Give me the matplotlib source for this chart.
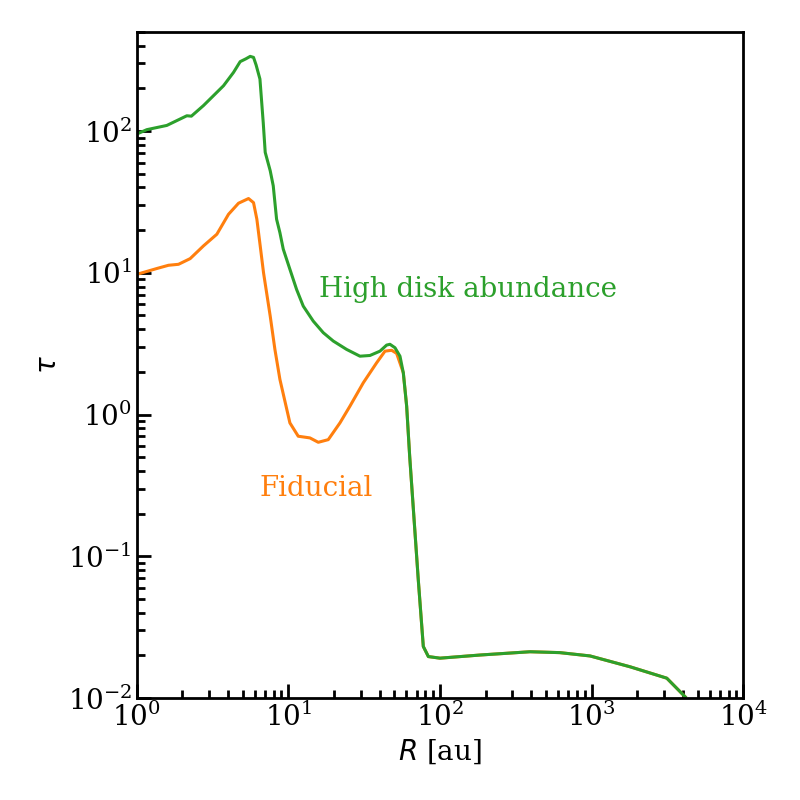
import numpy as np
import matplotlib
matplotlib.use('Agg')
import matplotlib.pyplot as plt

plt.rcParams['font.family'] = 'serif'
plt.rcParams['font.size'] = 20

# shared outer part (both models agree beyond ~55 au)
r_tail = [57.28, 60.26, 63.1, 71.9, 77.6, 83.8, 100, 183.7, 392.6, 616.6, 977, 1795, 3133, 4140]
tau_tail = [1.97, 1.146, 0.507, 0.0682, 0.0231, 0.0196, 0.0191, 0.0201, 0.0212, 0.0209, 0.0198,
            0.0166, 0.0138, 0.0102]

# high disk abundance model
r_high = [1, 1.164, 1.578, 2.138, 2.291, 2.754, 3.206, 3.733, 4.345, 4.808, 5.248, 5.598, 5.888,
          6.124, 6.49, 6.823, 7.031, 7.586, 7.943, 8.356, 8.79, 9.247, 10.23, 11.32, 12.53, 14.59,
          16.98, 19.77, 24.21, 29.65, 34.51, 40.18, 44.46, 46.77, 50.47, 54.45]
tau_high = [95.3, 102.3, 109.6, 128.2, 127.4, 151.4, 177.8, 208.9, 259.4, 309, 323.6, 336.5, 331,
            292.4, 232.8, 114.8, 70.8, 52.5, 41.1, 23.9, 19.2, 14.7, 10.59, 7.64, 5.82, 4.56,
            3.78, 3.30, 2.88, 2.58, 2.61, 2.80, 3.09, 3.13, 2.96, 2.58]

# fiducial model
r_fid = [1, 1.355, 1.618, 1.884, 2.249, 2.754, 3.373, 4.027, 4.688, 5.458, 5.888, 6.194, 6.516,
         6.855, 7.586, 8.147, 8.79, 10.23, 11.61, 13.87, 15.74, 18.32, 21.88, 25.47, 31.19, 38.19,
         43.35, 47.97, 51.76]
tau_fid = [9.75, 10.72, 11.3, 11.48, 12.59, 15.49, 18.71, 25.88, 30.97, 33.42, 31.26, 23.88, 15.49,
           10.0, 4.95, 2.88, 1.77, 0.873, 0.703, 0.684, 0.637, 0.665, 0.873, 1.146, 1.675, 2.317,
           2.8, 2.84, 2.70]

c_fid = '#ff7f0e'
c_high = '#2ca02c'

fig = plt.figure(figsize=(8, 8), dpi=100)
ax = fig.add_axes([0.171, 0.1275, 0.758, 0.8325])

ax.plot(r_fid + r_tail, tau_fid + tau_tail, color=c_fid, lw=2.2)
ax.plot(r_high + r_tail, tau_high + tau_tail, color=c_high, lw=2.2)

ax.set_xscale('log')
ax.set_yscale('log')
ax.set_xlim(1, 1e4)
ax.set_ylim(1e-2, 500)

ax.text(16, 7.6, 'High disk abundance', color=c_high, ha='left', va='center', fontsize=20)
ax.text(6.4, 0.30, 'Fiducial', color=c_fid, ha='left', va='center', fontsize=20)

ax.set_xlabel(r'$R$ [au]', fontsize=20, labelpad=4)
ax.set_ylabel(r'$\tau$', fontsize=20, labelpad=4)

for s in ax.spines.values():
	s.set_linewidth(2)
ax.tick_params(which='both', direction='in', width=2, top=False, right=False)
ax.tick_params(which='major', length=10, labelsize=20)
ax.tick_params(which='minor', length=6)
ax.yaxis.set_minor_locator(matplotlib.ticker.LogLocator(base=10, subs=np.arange(2, 10), numticks=20))

fig.savefig('out.png', dpi=100)
